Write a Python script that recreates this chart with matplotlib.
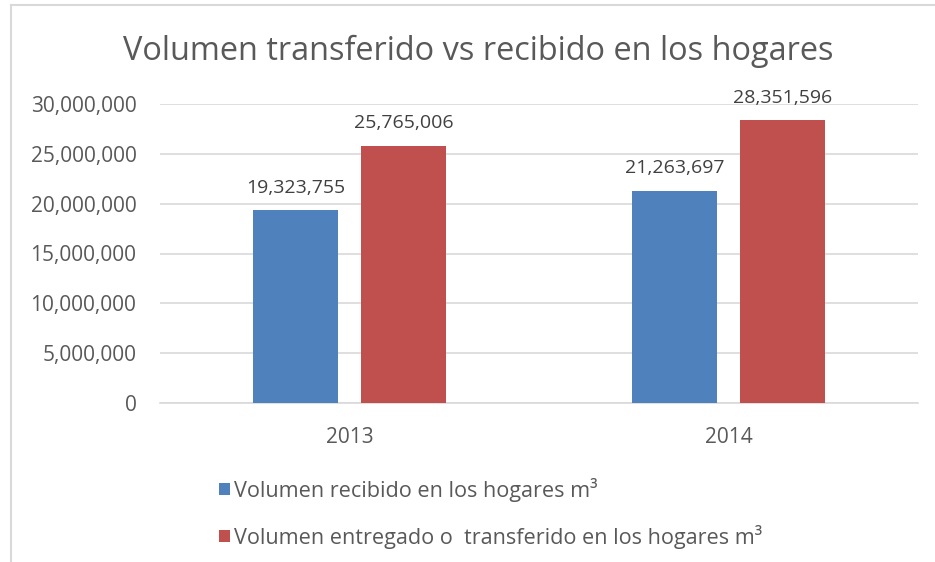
import matplotlib
matplotlib.use("Agg")
import matplotlib.pyplot as plt
import numpy as np
from matplotlib.ticker import FuncFormatter
from matplotlib.lines import Line2D

categories = ["2013", "2014"]
series_names = ["Volumen recibido en los hogares m³",
                "Volumen entregado o  transferido en los hogares m³"]
recibido = [19323755, 21263697]
entregado = [25765006, 28351596]
title = "Volumen transferido vs recibido en los hogares"

plt.rcParams['font.family'] = ['Open Sans', 'DejaVu Sans']
TXT = '#595959'
GRID = '#D9D9D9'
BLUE = '#4F81BD'
RED = '#C0504D'

W, H = 935, 562
fig = plt.figure(figsize=(W/100, H/100), dpi=100)
ax = fig.add_axes([160/W, 1-403/H, (918-160)/W, (403-104)/H])

x = np.arange(len(categories))
bw = 0.222
off = 0.1425
b1 = ax.bar(x - off, recibido, bw, color=BLUE, label=series_names[0], zorder=3)
b2 = ax.bar(x + off, entregado, bw, color=RED, label=series_names[1], zorder=3)

for bars, vals in ((b1, recibido), (b2, entregado)):
    for r, v in zip(bars, vals):
        ax.annotate(f"{v:,}", (r.get_x() + r.get_width()/2, v),
                    xytext=(0, 10), textcoords='offset points',
                    ha='center', va='bottom', fontsize=14, color='#404040')

ax.set_xlim(-0.5, 1.5)
ax.set_ylim(0, 30000000)
ax.set_yticks(np.arange(0, 30000001, 5000000))
ax.yaxis.set_major_formatter(FuncFormatter(lambda v, p: f"{int(v):,}"))
ax.set_xticks(x)
ax.set_xticklabels(categories)
ax.tick_params(axis='y', length=0, pad=17, labelsize=15, labelcolor=TXT)
ax.tick_params(axis='x', length=0, pad=17, labelsize=15, labelcolor=TXT)
ax.grid(axis='y', color=GRID, linewidth=1.2, zorder=0)
for s in ('top', 'right', 'left'):
    ax.spines[s].set_visible(False)
ax.spines['bottom'].set_color(GRID)
ax.spines['bottom'].set_linewidth(1.2)

fig.text(478/W, 1-51/H, title, ha='center', va='center', fontsize=23.4, color=TXT)

fig.legend(handles=[b1, b2], labels=series_names, loc='upper left',
           bbox_to_anchor=(208/W, 1-467/H), frameon=False, fontsize=15.6,
           handlelength=0.5, handleheight=0.5, handletextpad=0.18,
           labelspacing=1.05, labelcolor=TXT, borderpad=0)

# chart border (only top and left visible in crop)
fig.add_artist(Line2D([11/W, 11/W], [0, 1-5/H], transform=fig.transFigure, color=GRID, lw=1.5))
fig.add_artist(Line2D([11/W, 1], [1-5/H, 1-5/H], transform=fig.transFigure, color=GRID, lw=1.5))

fig.savefig("out.png", dpi=100)
